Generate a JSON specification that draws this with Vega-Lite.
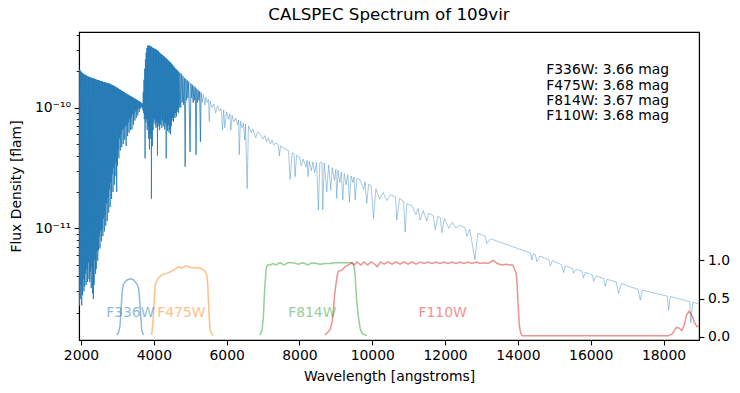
{
"$schema": "https://vega.github.io/schema/vega-lite/v6.json",
"width": 620, "height": 308,
"autosize": {"type": "none"},
"padding": {"left": 79, "top": 32, "right": 41, "bottom": 53},
"background": "white",
"config": {
 "font": "DejaVu Sans",
 "view": {"stroke": "black", "strokeWidth": 1.1},
 "axis": {"grid": false, "domainColor": "black", "domainWidth": 1.1, "tickColor": "black", "tickWidth": 1.1, "tickSize": 4.9, "labelColor": "black", "labelFontSize": 13.9, "labelPadding": 3.5, "titleColor": "black", "titleFontSize": 13.9, "titleFontWeight": "normal", "labelFlush": false, "labelOverlap": false, "labelBound": false}
},
"title": {"text": "CALSPEC Spectrum of 109vir", "fontSize": 16.7, "fontWeight": "normal", "color": "black", "anchor": "middle", "offset": 4},
"datasets": {
"spec": [
{"w":1950,"f":2.09e-10},{"w":1960,"f":2.3e-12},{"w":1970,"f":2.05e-10},{"w":1980,"f":2.6e-12},{"w":1990,"f":2.0e-10},{"w":2000,"f":3.4e-12},
{"w":2010,"f":1.97e-10},{"w":2020,"f":2.3e-12},{"w":2030,"f":1.94e-10},{"w":2040,"f":2.8e-12},{"w":2050,"f":1.92e-10},{"w":2060,"f":3.8e-12},
{"w":2070,"f":1.90e-10},{"w":2080,"f":3.0e-12},{"w":2090,"f":1.88e-10},{"w":2100,"f":3.3e-12},{"w":2110,"f":1.87e-10},{"w":2120,"f":4.2e-12},
{"w":2130,"f":1.85e-10},{"w":2140,"f":3.4e-12},{"w":2150,"f":1.84e-10},{"w":2160,"f":4.6e-12},{"w":2170,"f":1.82e-10},{"w":2180,"f":3.6e-12},
{"w":2190,"f":1.81e-10},{"w":2200,"f":5.2e-12},{"w":2210,"f":1.80e-10},{"w":2220,"f":3.8e-12},{"w":2230,"f":1.79e-10},{"w":2240,"f":3.6e-12},
{"w":2250,"f":1.78e-10},{"w":2260,"f":4.4e-12},{"w":2270,"f":1.77e-10},{"w":2280,"f":3.2e-12},{"w":2290,"f":1.76e-10},{"w":2300,"f":4.8e-12},
{"w":2310,"f":1.75e-10},{"w":2320,"f":2.9e-12},{"w":2330,"f":1.74e-10},{"w":2340,"f":2.6e-12},{"w":2350,"f":1.74e-10},{"w":2360,"f":3.4e-12},
{"w":2370,"f":1.73e-10},{"w":2380,"f":5.5e-12},{"w":2390,"f":1.72e-10},{"w":2400,"f":4.2e-12},{"w":2410,"f":1.71e-10},{"w":2420,"f":4.6e-12},
{"w":2430,"f":1.70e-10},{"w":2440,"f":6.5e-12},{"w":2450,"f":1.69e-10},{"w":2460,"f":5.4e-12},{"w":2470,"f":1.69e-10},{"w":2480,"f":6.6e-12},
{"w":2490,"f":1.68e-10},{"w":2500,"f":8.5e-12},{"w":2510,"f":1.67e-10},{"w":2520,"f":6.8e-12},{"w":2530,"f":1.66e-10},{"w":2540,"f":9.5e-12},
{"w":2550,"f":1.66e-10},{"w":2560,"f":7.8e-12},{"w":2570,"f":1.65e-10},{"w":2580,"f":1.0e-11},{"w":2590,"f":1.64e-10},{"w":2600,"f":8.6e-12},
{"w":2610,"f":1.63e-10},{"w":2620,"f":1.2e-11},{"w":2630,"f":1.63e-10},{"w":2640,"f":9.4e-12},{"w":2650,"f":1.62e-10},{"w":2660,"f":1.3e-11},
{"w":2670,"f":1.61e-10},{"w":2680,"f":1.05e-11},{"w":2690,"f":1.61e-10},{"w":2700,"f":1.6e-11},{"w":2710,"f":1.60e-10},{"w":2720,"f":1.15e-11},
{"w":2730,"f":1.59e-10},{"w":2740,"f":1.8e-11},{"w":2750,"f":1.59e-10},{"w":2760,"f":1.35e-11},{"w":2770,"f":1.58e-10},{"w":2780,"f":2.1e-11},
{"w":2790,"f":1.57e-10},{"w":2800,"f":1.5e-11},{"w":2810,"f":1.56e-10},{"w":2820,"f":2.4e-11},{"w":2830,"f":1.55e-10},{"w":2840,"f":1.75e-11},
{"w":2850,"f":1.54e-10},{"w":2860,"f":2.8e-11},{"w":2870,"f":1.53e-10},{"w":2880,"f":2.0e-11},{"w":2890,"f":1.52e-10},{"w":2900,"f":3.2e-11},
{"w":2910,"f":1.51e-10},{"w":2920,"f":2.3e-11},{"w":2930,"f":1.50e-10},{"w":2940,"f":3.5e-11},{"w":2950,"f":1.48e-10},{"w":2960,"f":2.7e-11},
{"w":2970,"f":1.47e-10},{"w":2980,"f":2.0e-11},{"w":2990,"f":1.46e-10},{"w":3000,"f":3.3e-11},{"w":3010,"f":1.45e-10},{"w":3020,"f":4.5e-11},
{"w":3030,"f":1.43e-10},{"w":3040,"f":3.8e-11},{"w":3050,"f":1.42e-10},{"w":3060,"f":5.5e-11},{"w":3070,"f":1.41e-10},{"w":3080,"f":4.4e-11},
{"w":3090,"f":1.40e-10},{"w":3100,"f":6.0e-11},{"w":3110,"f":1.38e-10},{"w":3120,"f":4.7e-11},{"w":3130,"f":1.37e-10},{"w":3140,"f":6.5e-11},
{"w":3150,"f":1.36e-10},{"w":3160,"f":5.0e-11},{"w":3170,"f":1.35e-10},{"w":3180,"f":6.8e-11},{"w":3190,"f":1.34e-10},{"w":3200,"f":5.4e-11},
{"w":3210,"f":1.32e-10},{"w":3220,"f":7.0e-11},{"w":3230,"f":1.31e-10},{"w":3240,"f":4.8e-11},{"w":3250,"f":1.30e-10},{"w":3260,"f":7.2e-11},
{"w":3270,"f":1.29e-10},{"w":3280,"f":5.8e-11},{"w":3290,"f":1.28e-10},{"w":3300,"f":7.5e-11},{"w":3310,"f":1.27e-10},{"w":3320,"f":6.2e-11},
{"w":3330,"f":1.26e-10},{"w":3340,"f":8.0e-11},{"w":3350,"f":1.25e-10},{"w":3360,"f":6.5e-11},{"w":3370,"f":1.24e-10},{"w":3380,"f":8.3e-11},
{"w":3390,"f":1.23e-10},{"w":3400,"f":6.6e-11},{"w":3410,"f":1.22e-10},{"w":3420,"f":8.8e-11},{"w":3430,"f":1.21e-10},{"w":3440,"f":7.2e-11},
{"w":3450,"f":1.20e-10},{"w":3460,"f":9.0e-11},{"w":3470,"f":1.19e-10},{"w":3480,"f":7.8e-11},{"w":3490,"f":1.18e-10},{"w":3500,"f":9.3e-11},
{"w":3510,"f":1.17e-10},{"w":3520,"f":8.2e-11},{"w":3530,"f":1.16e-10},{"w":3540,"f":9.6e-11},{"w":3550,"f":1.15e-10},{"w":3560,"f":8.6e-11},
{"w":3570,"f":1.14e-10},{"w":3580,"f":9.8e-11},{"w":3590,"f":1.13e-10},{"w":3600,"f":9.2e-11},{"w":3610,"f":1.12e-10},{"w":3620,"f":1.0e-10},
{"w":3630,"f":1.11e-10},{"w":3640,"f":9.8e-11},{"w":3650,"f":1.10e-10},{"w":3660,"f":1.02e-10},{"w":3670,"f":1.08e-10},{"w":3680,"f":1.0e-10},
{"w":3690,"f":1.08e-10},{"w":3700,"f":9.5e-11},{"w":3710,"f":1.35e-10},{"w":3720,"f":9.0e-11},{"w":3730,"f":1.7e-10},{"w":3740,"f":8.0e-11},
{"w":3750,"f":2.1e-10},{"w":3760,"f":3.8e-11},{"w":3770,"f":2.5e-10},{"w":3780,"f":7.5e-11},{"w":3790,"f":2.85e-10},{"w":3800,"f":8.0e-11},
{"w":3810,"f":3.1e-10},{"w":3820,"f":6.5e-11},{"w":3830,"f":3.25e-10},{"w":3840,"f":7.0e-11},{"w":3850,"f":3.26e-10},{"w":3860,"f":5.5e-11},
{"w":3870,"f":3.25e-10},{"w":3880,"f":4.5e-11},{"w":3890,"f":3.24e-10},{"w":3900,"f":6.0e-11},{"w":3910,"f":3.22e-10},{"w":3920,"f":5.5e-11},
{"w":3928,"f":3.2e-10},{"w":3934,"f":1.76e-11},{"w":3950,"f":3.15e-10},{"w":3960,"f":4.8e-11},{"w":3970,"f":3.12e-10},{"w":3980,"f":6.5e-11},
{"w":3990,"f":3.1e-10},{"w":4000,"f":7.5e-11},{"w":4010,"f":3.08e-10},{"w":4020,"f":8.0e-11},{"w":4030,"f":3.06e-10},{"w":4040,"f":7.2e-11},
{"w":4050,"f":3.04e-10},{"w":4060,"f":6.8e-11},{"w":4070,"f":3.01e-10},{"w":4080,"f":7.5e-11},{"w":4090,"f":2.99e-10},{"w":4100,"f":4.0e-11},
{"w":4110,"f":2.96e-10},{"w":4120,"f":7.0e-11},{"w":4130,"f":2.91e-10},{"w":4140,"f":7.5e-11},{"w":4150,"f":2.86e-10},{"w":4160,"f":6.5e-11},
{"w":4170,"f":2.82e-10},{"w":4180,"f":7.2e-11},{"w":4190,"f":2.79e-10},{"w":4200,"f":8.0e-11},{"w":4210,"f":2.76e-10},{"w":4220,"f":6.8e-11},
{"w":4230,"f":2.73e-10},{"w":4240,"f":7.8e-11},{"w":4250,"f":2.70e-10},{"w":4260,"f":7.0e-11},{"w":4270,"f":2.67e-10},{"w":4280,"f":7.6e-11},
{"w":4290,"f":2.63e-10},{"w":4300,"f":6.6e-11},{"w":4310,"f":2.60e-10},{"w":4320,"f":7.4e-11},{"w":4330,"f":2.57e-10},{"w":4340,"f":3.8e-11},
{"w":4350,"f":2.54e-10},{"w":4360,"f":7.0e-11},{"w":4370,"f":2.50e-10},{"w":4380,"f":6.4e-11},{"w":4390,"f":2.47e-10},{"w":4400,"f":7.2e-11},
{"w":4410,"f":2.43e-10},{"w":4420,"f":6.2e-11},{"w":4430,"f":2.40e-10},{"w":4440,"f":6.6e-11},{"w":4450,"f":2.37e-10},{"w":4460,"f":6.0e-11},
{"w":4470,"f":2.34e-10},{"w":4480,"f":7.0e-11},{"w":4490,"f":2.30e-10},{"w":4500,"f":7.8e-11},{"w":4510,"f":2.26e-10},{"w":4520,"f":8.2e-11},
{"w":4530,"f":2.22e-10},{"w":4540,"f":7.6e-11},{"w":4550,"f":2.18e-10},{"w":4560,"f":8.6e-11},{"w":4570,"f":2.14e-10},{"w":4580,"f":8.2e-11},
{"w":4590,"f":2.11e-10},{"w":4600,"f":9.0e-11},{"w":4610,"f":2.08e-10},{"w":4620,"f":8.4e-11},{"w":4630,"f":2.05e-10},{"w":4640,"f":9.2e-11},
{"w":4650,"f":2.02e-10},{"w":4660,"f":9.6e-11},{"w":4670,"f":1.99e-10},{"w":4680,"f":9.0e-11},{"w":4690,"f":1.96e-10},{"w":4700,"f":1.0e-10},
{"w":4720,"f":1.93e-10},{"w":4740,"f":1.0e-10},{"w":4760,"f":1.90e-10},{"w":4780,"f":1.1e-10},{"w":4800,"f":1.83e-10},{"w":4820,"f":1.05e-10},
{"w":4840,"f":1.76e-10},{"w":4861,"f":3.24e-11},{"w":4880,"f":1.72e-10},{"w":4900,"f":1.15e-10},{"w":4920,"f":1.68e-10},{"w":4940,"f":1.2e-10},
{"w":4960,"f":1.64e-10},{"w":4995,"f":4.3e-11},{"w":5020,"f":1.58e-10},{"w":5040,"f":1.2e-10},{"w":5060,"f":1.54e-10},{"w":5080,"f":1.1e-10},
{"w":5100,"f":1.50e-10},{"w":5120,"f":1.15e-10},{"w":5140,"f":1.47e-10},{"w":5160,"f":4.06e-11},{"w":5180,"f":1.43e-10},{"w":5200,"f":1.1e-10},
{"w":5220,"f":1.39e-10},{"w":5240,"f":1.15e-10},{"w":5260,"f":1.36e-10},{"w":5280,"f":5.2e-11},{"w":5300,"f":1.33e-10},{"w":5330,"f":1.1e-10},
{"w":5360,"f":1.28e-10},{"w":5400,"f":1.05e-10},{"w":5430,"f":1.22e-10},{"w":5460,"f":1.1e-10},{"w":5500,"f":1.17e-10},{"w":5523,"f":7.66e-11},
{"w":5550,"f":1.13e-10},{"w":5600,"f":1.0e-10},{"w":5650,"f":1.07e-10},{"w":5700,"f":9.0e-11},{"w":5750,"f":1.03e-10},{"w":5800,"f":9.4e-11},
{"w":5850,"f":9.8e-11},{"w":5888,"f":6.54e-11},{"w":5920,"f":9.55e-11},{"w":5951,"f":6.8e-11},{"w":6000,"f":9.2e-11},{"w":6050,"f":8.0e-11},
{"w":6090,"f":8.85e-11},{"w":6116,"f":6.5e-11},{"w":6150,"f":8.6e-11},{"w":6200,"f":7.6e-11},{"w":6250,"f":8.2e-11},{"w":6300,"f":7.2e-11},
{"w":6330,"f":7.9e-11},{"w":6346,"f":4.06e-11},{"w":6380,"f":7.7e-11},{"w":6420,"f":6.8e-11},{"w":6460,"f":7.45e-11},{"w":6498,"f":5.4e-11},
{"w":6520,"f":7.3e-11},{"w":6563,"f":2.14e-11},{"w":6600,"f":7.05e-11},{"w":6680,"f":6.2e-11},{"w":6720,"f":6.65e-11},{"w":6800,"f":5.6e-11},
{"w":6850,"f":6.3e-11},{"w":6919,"f":6.05e-11},{"w":7000,"f":5.5e-11},{"w":7050,"f":5.85e-11},{"w":7100,"f":5.2e-11},{"w":7150,"f":5.62e-11},
{"w":7200,"f":5.0e-11},{"w":7250,"f":5.35e-11},{"w":7300,"f":4.9e-11},{"w":7350,"f":5.09e-11},{"w":7420,"f":4.92e-11},{"w":7449,"f":3.98e-11},
{"w":7480,"f":4.8e-11},{"w":7600,"f":4.56e-11},{"w":7700,"f":4.38e-11},{"w":7743,"f":2.55e-11},{"w":7800,"f":4.22e-11},{"w":7850,"f":4.15e-11},
{"w":7881,"f":2.68e-11},{"w":7920,"f":4.02e-11},{"w":8000,"f":3.9e-11},{"w":8050,"f":3.3e-11},{"w":8100,"f":3.75e-11},{"w":8180,"f":3.2e-11},
{"w":8210,"f":3.65e-11},{"w":8238,"f":2.68e-11},{"w":8270,"f":3.6e-11},{"w":8330,"f":3.0e-11},{"w":8370,"f":3.55e-11},{"w":8420,"f":2.9e-11},
{"w":8470,"f":3.52e-11},{"w":8521,"f":1.42e-11},{"w":8560,"f":3.5e-11},{"w":8620,"f":3.5e-11},{"w":8641,"f":1.42e-11},{"w":8680,"f":3.48e-11},
{"w":8752,"f":2.01e-11},{"w":8800,"f":3.35e-11},{"w":8862,"f":2.08e-11},{"w":8900,"f":3.18e-11},{"w":8960,"f":2.5e-11},{"w":9000,"f":3.08e-11},
{"w":9026,"f":1.77e-11},{"w":9060,"f":3.02e-11},{"w":9110,"f":2.4e-11},{"w":9150,"f":2.92e-11},{"w":9191,"f":1.72e-11},{"w":9230,"f":2.85e-11},
{"w":9280,"f":2.3e-11},{"w":9330,"f":2.78e-11},{"w":9373,"f":1.66e-11},{"w":9420,"f":2.71e-11},{"w":9470,"f":2.4e-11},{"w":9500,"f":2.66e-11},
{"w":9530,"f":1.72e-11},{"w":9580,"f":2.6e-11},{"w":9667,"f":2.52e-11},{"w":9760,"f":2.1e-11},{"w":9800,"f":2.43e-11},{"w":9851,"f":1.61e-11},
{"w":9900,"f":2.32e-11},{"w":9970,"f":2.25e-11},{"w":10034,"f":1.21e-11},{"w":10100,"f":2.13e-11},{"w":10200,"f":1.75e-11},{"w":10300,"f":1.98e-11},
{"w":10400,"f":1.7e-11},{"w":10500,"f":1.9e-11},{"w":10582,"f":1.85e-11},{"w":10640,"f":1.82e-11},{"w":10674,"f":1.17e-11},{"w":10750,"f":1.76e-11},
{"w":10860,"f":1.68e-11},{"w":10904,"f":9.3e-12},{"w":10950,"f":1.6e-11},{"w":11100,"f":1.53e-11},{"w":11200,"f":1.3e-11},{"w":11260,"f":1.46e-11},
{"w":11316,"f":1.17e-11},{"w":11400,"f":1.4e-11},{"w":11500,"f":1.15e-11},{"w":11550,"f":1.33e-11},{"w":11680,"f":1.27e-11},{"w":11728,"f":9.7e-12},
{"w":11800,"f":1.25e-11},{"w":11870,"f":1.23e-11},{"w":11911,"f":9.2e-12},{"w":11980,"f":1.2e-11},{"w":12100,"f":1.0e-11},{"w":12200,"f":1.12e-11},
{"w":12300,"f":1.0e-11},{"w":12400,"f":1.06e-11},{"w":12550,"f":1.01e-11},{"w":12599,"f":8.6e-12},{"w":12680,"f":9.8e-12},{"w":12818,"f":5.5e-12},
{"w":12900,"f":9.1e-12},{"w":13000,"f":8.85e-12},{"w":13100,"f":8.6e-12},{"w":13148,"f":7.5e-12},{"w":13250,"f":8.2e-12},{"w":13605,"f":7.5e-12},
{"w":14000,"f":6.8e-12},{"w":14350,"f":6.25e-12},{"w":14385,"f":5.47e-12},{"w":14420,"f":6.15e-12},{"w":14480,"f":6.05e-12},{"w":14522,"f":5.3e-12},
{"w":14600,"f":5.9e-12},{"w":14850,"f":5.5e-12},{"w":14888,"f":4.9e-12},{"w":14950,"f":5.4e-12},{"w":15200,"f":5.0e-12},{"w":15254,"f":4.3e-12},
{"w":15300,"f":4.88e-12},{"w":15500,"f":4.65e-12},{"w":15529,"f":4.25e-12},{"w":15600,"f":4.58e-12},{"w":15760,"f":4.4e-12},{"w":15803,"f":3.9e-12},
{"w":15850,"f":4.32e-12},{"w":16050,"f":4.1e-12},{"w":16078,"f":3.65e-12},{"w":16150,"f":4.02e-12},{"w":16354,"f":3.85e-12},{"w":16400,"f":3.3e-12},
{"w":16450,"f":3.78e-12},{"w":16700,"f":3.6e-12},{"w":16766,"f":2.9e-12},{"w":16850,"f":3.5e-12},{"w":17100,"f":3.27e-12},{"w":17300,"f":3.13e-12},
{"w":17362,"f":2.55e-12},{"w":17420,"f":3.07e-12},{"w":17700,"f":2.93e-12},{"w":18100,"f":2.75e-12},{"w":18140,"f":2.1e-12},{"w":18187,"f":2.72e-12},
{"w":18400,"f":2.62e-12},{"w":18600,"f":2.52e-12},{"w":18720,"f":2.47e-12},{"w":18751,"f":1.65e-12},{"w":18800,"f":2.44e-12},{"w":18990,"f":2.36e-12}
],
"filters": [
{"filt":"F336W","w":2981,"t":0.02},{"filt":"F336W","w":3030,"t":0.05},{"filt":"F336W","w":3072,"t":0.14},{"filt":"F336W","w":3107,"t":0.42},
{"filt":"F336W","w":3135,"t":0.61},{"filt":"F336W","w":3168,"t":0.69},{"filt":"F336W","w":3256,"t":0.74},{"filt":"F336W","w":3347,"t":0.76},
{"filt":"F336W","w":3429,"t":0.75},{"filt":"F336W","w":3484,"t":0.72},{"filt":"F336W","w":3539,"t":0.69},{"filt":"F336W","w":3580,"t":0.64},
{"filt":"F336W","w":3613,"t":0.48},{"filt":"F336W","w":3641,"t":0.26},{"filt":"F336W","w":3668,"t":0.09},{"filt":"F336W","w":3712,"t":0.02},
{"filt":"F475W","w":3943,"t":0.02},{"filt":"F475W","w":3987,"t":0.26},{"filt":"F475W","w":4034,"t":0.66},{"filt":"F475W","w":4075,"t":0.73},
{"filt":"F475W","w":4124,"t":0.77},{"filt":"F475W","w":4218,"t":0.81},{"filt":"F475W","w":4355,"t":0.83},{"filt":"F475W","w":4492,"t":0.86},
{"filt":"F475W","w":4630,"t":0.90},{"filt":"F475W","w":4693,"t":0.92},{"filt":"F475W","w":4767,"t":0.90},{"filt":"F475W","w":4885,"t":0.93},
{"filt":"F475W","w":4995,"t":0.91},{"filt":"F475W","w":5133,"t":0.90},{"filt":"F475W","w":5270,"t":0.90},{"filt":"F475W","w":5388,"t":0.87},
{"filt":"F475W","w":5454,"t":0.81},{"filt":"F475W","w":5482,"t":0.68},{"filt":"F475W","w":5498,"t":0.48},{"filt":"F475W","w":5526,"t":0.22},
{"filt":"F475W","w":5545,"t":0.09},{"filt":"F475W","w":5619,"t":0.01},
{"filt":"F814W","w":6919,"t":0.02},{"filt":"F814W","w":6974,"t":0.09},{"filt":"F814W","w":7010,"t":0.26},{"filt":"F814W","w":7043,"t":0.61},
{"filt":"F814W","w":7056,"t":0.70},{"filt":"F814W","w":7089,"t":0.90},{"filt":"F814W","w":7125,"t":0.94},{"filt":"F814W","w":7194,"t":0.94},
{"filt":"F814W","w":7276,"t":0.96},{"filt":"F814W","w":7359,"t":0.94},{"filt":"F814W","w":7469,"t":0.97},{"filt":"F814W","w":7579,"t":0.94},
{"filt":"F814W","w":7688,"t":0.97},{"filt":"F814W","w":7826,"t":0.97},{"filt":"F814W","w":7963,"t":0.95},{"filt":"F814W","w":8101,"t":0.97},
{"filt":"F814W","w":8238,"t":0.94},{"filt":"F814W","w":8348,"t":0.97},{"filt":"F814W","w":8458,"t":0.96},{"filt":"F814W","w":8568,"t":0.95},
{"filt":"F814W","w":8705,"t":0.96},{"filt":"F814W","w":8843,"t":0.96},{"filt":"F814W","w":8980,"t":0.97},{"filt":"F814W","w":9117,"t":0.97},
{"filt":"F814W","w":9255,"t":0.97},{"filt":"F814W","w":9392,"t":0.97},{"filt":"F814W","w":9474,"t":0.96},{"filt":"F814W","w":9516,"t":0.88},
{"filt":"F814W","w":9543,"t":0.70},{"filt":"F814W","w":9571,"t":0.48},{"filt":"F814W","w":9620,"t":0.26},{"filt":"F814W","w":9667,"t":0.11},
{"filt":"F814W","w":9722,"t":0.04},{"filt":"F814W","w":9851,"t":0.01},
{"filt":"F110W","w":8705,"t":0.02},{"filt":"F110W","w":8843,"t":0.09},{"filt":"F110W","w":8898,"t":0.19},{"filt":"F110W","w":8933,"t":0.35},
{"filt":"F110W","w":8966,"t":0.55},{"filt":"F110W","w":9007,"t":0.70},{"filt":"F110W","w":9035,"t":0.80},{"filt":"F110W","w":9071,"t":0.86},
{"filt":"F110W","w":9164,"t":0.87},{"filt":"F110W","w":9255,"t":0.92},{"filt":"F110W","w":9345,"t":0.94},{"filt":"F110W","w":9439,"t":0.97},
{"filt":"F110W","w":9502,"t":0.94},{"filt":"F110W","w":9584,"t":0.98},{"filt":"F110W","w":9680,"t":0.94},{"filt":"F110W","w":9777,"t":0.98},
{"filt":"F110W","w":9873,"t":0.94},{"filt":"F110W","w":9969,"t":0.98},{"filt":"F110W","w":10065,"t":0.95},{"filt":"F110W","w":10134,"t":0.92},
{"filt":"F110W","w":10230,"t":0.98},{"filt":"F110W","w":10326,"t":0.95},{"filt":"F110W","w":10436,"t":0.98},{"filt":"F110W","w":10546,"t":0.95},
{"filt":"F110W","w":10656,"t":0.98},{"filt":"F110W","w":10766,"t":0.95},{"filt":"F110W","w":10876,"t":0.98},{"filt":"F110W","w":10986,"t":0.95},
{"filt":"F110W","w":11096,"t":0.98},{"filt":"F110W","w":11206,"t":0.95},{"filt":"F110W","w":11316,"t":0.98},{"filt":"F110W","w":11426,"t":0.96},
{"filt":"F110W","w":11536,"t":0.98},{"filt":"F110W","w":11645,"t":0.96},{"filt":"F110W","w":11755,"t":0.98},{"filt":"F110W","w":11865,"t":0.96},
{"filt":"F110W","w":11975,"t":0.98},{"filt":"F110W","w":12085,"t":0.96},{"filt":"F110W","w":12195,"t":0.98},{"filt":"F110W","w":12305,"t":0.96},
{"filt":"F110W","w":12415,"t":0.98},{"filt":"F110W","w":12524,"t":0.96},{"filt":"F110W","w":12634,"t":0.98},{"filt":"F110W","w":12744,"t":0.96},
{"filt":"F110W","w":12854,"t":0.98},{"filt":"F110W","w":12964,"t":0.96},{"filt":"F110W","w":13074,"t":0.97},{"filt":"F110W","w":13184,"t":0.96},
{"filt":"F110W","w":13322,"t":1.00},{"filt":"F110W","w":13431,"t":0.96},{"filt":"F110W","w":13569,"t":0.94},{"filt":"F110W","w":13679,"t":0.95},
{"filt":"F110W","w":13789,"t":0.94},{"filt":"F110W","w":13858,"t":0.94},{"filt":"F110W","w":13899,"t":0.90},{"filt":"F110W","w":13954,"t":0.83},
{"filt":"F110W","w":13981,"t":0.68},{"filt":"F110W","w":14000,"t":0.48},{"filt":"F110W","w":14022,"t":0.29},{"filt":"F110W","w":14044,"t":0.13},
{"filt":"F110W","w":14077,"t":0.05},{"filt":"F110W","w":14118,"t":0.01},{"filt":"F110W","w":16262,"t":0.01},{"filt":"F110W","w":18131,"t":0.01},
{"filt":"F110W","w":18241,"t":0.035},{"filt":"F110W","w":18351,"t":0.12},{"filt":"F110W","w":18433,"t":0.11},{"filt":"F110W","w":18507,"t":0.08},
{"filt":"F110W","w":18570,"t":0.15},{"filt":"F110W","w":18625,"t":0.27},{"filt":"F110W","w":18689,"t":0.33},{"filt":"F110W","w":18735,"t":0.31},
{"filt":"F110W","w":18790,"t":0.27},{"filt":"F110W","w":18845,"t":0.19},{"filt":"F110W","w":18919,"t":0.13},{"filt":"F110W","w":18982,"t":0.14},
{"filt":"F110W","w":19064,"t":0.18}
],
"labels": [
{"filt":"F336W","w":3355},{"filt":"F475W","w":4756},{"filt":"F814W","w":8353},{"filt":"F110W","w":11934}
]
},
"layer": [
 {
  "data": {"name": "spec"},
  "encoding": {
   "x": {"field": "w", "type": "quantitative", "scale": {"domain": [1945, 18975], "nice": false, "zero": false},
    "axis": {"values": [2000,4000,6000,8000,10000,12000,14000,16000,18000], "format": "d", "title": "Wavelength [angstroms]", "titleY": 36.2, "titleBaseline": "middle"}},
   "y": {"field": "f", "type": "quantitative",
    "scale": {"type": "log", "domain": [1.19e-12, 4.22e-10], "nice": false},
    "axis": {"values": [2e-12,3e-12,4e-12,5e-12,6e-12,7e-12,8e-12,9e-12,1e-11,2e-11,3e-11,4e-11,5e-11,6e-11,7e-11,8e-11,9e-11,1e-10,2e-10,3e-10,4e-10],
     "labelExpr": "datum.value == 1e-10 ? '10⁻¹⁰' : (datum.value == 1e-11 ? '10⁻¹¹' : '')",
     "tickSize": {"condition": {"test": "datum.value == 1e-10 || datum.value == 1e-11", "value": 4.9}, "value": 2.8},
     "tickWidth": {"condition": {"test": "datum.value == 1e-10 || datum.value == 1e-11", "value": 1.1}, "value": 0.85},
     "title": "Flux Density [flam]", "titleX": -62.9, "titleY": 154, "titleBaseline": "middle", "titleAlign": "center", "titleAngle": 270}
   }
  },
  "layer": [
   {
    "transform": [{"filter": {"field": "w", "lte": 5300}}],
    "mark": {"type": "line", "color": "#1f77b4", "strokeWidth": 0.8, "clip": true}
   },
   {
    "transform": [{"filter": {"field": "w", "gte": 5300}}],
    "mark": {"type": "line", "color": "#1f77b4", "strokeWidth": 0.4, "clip": true}
   }
  ]
 },
 {
  "layer": [
   {
    "data": {"name": "filters"},
    "mark": {"type": "line", "strokeWidth": 1.5, "opacity": 0.5, "clip": true},
    "encoding": {
     "x": {"field": "w", "type": "quantitative", "scale": {"domain": [1945, 18975], "nice": false, "zero": false},
      "axis": {"values": [2000,4000,6000,8000,10000,12000,14000,16000,18000], "format": "d", "title": "Wavelength [angstroms]", "titleY": 36.2, "titleBaseline": "middle"}},
     "y": {"field": "t", "type": "quantitative", "scale": {"domain": [-0.045, 4.0], "nice": false, "zero": false},
      "axis": {"orient": "right", "values": [0, 0.5, 1], "format": ".1f", "title": null}},
     "color": {"field": "filt", "type": "nominal", "scale": {"domain": ["F336W","F475W","F814W","F110W"], "range": ["#1f77b4","#ff7f0e","#2ca02c","#d62728"]}, "legend": null}
    }
   },
   {
    "data": {"name": "labels"},
    "mark": {"type": "text", "fontSize": 13.9, "opacity": 0.5, "align": "center", "baseline": "middle"},
    "encoding": {
     "x": {"field": "w", "type": "quantitative", "scale": {"domain": [1945, 18975], "nice": false, "zero": false},
      "axis": {"values": [2000,4000,6000,8000,10000,12000,14000,16000,18000], "format": "d", "title": "Wavelength [angstroms]", "titleY": 36.2, "titleBaseline": "middle"}},
     "y": {"datum": 0.31},
     "text": {"field": "filt", "type": "nominal"},
     "color": {"field": "filt", "type": "nominal", "legend": null}
    }
   },
   {
    "data": {"values": [{"a": 1}]},
    "mark": {"type": "text", "fontSize": 13.9, "align": "left", "baseline": "middle", "fill": "black"},
    "encoding": {"x": {"datum": 14780}, "y": {"datum": 3.498}, "text": {"value": "F336W: 3.66 mag"}}
   },
   {
    "data": {"values": [{"a": 1}]},
    "mark": {"type": "text", "fontSize": 13.9, "align": "left", "baseline": "middle", "fill": "black"},
    "encoding": {"x": {"datum": 14780}, "y": {"datum": 3.294}, "text": {"value": "F475W: 3.68 mag"}}
   },
   {
    "data": {"values": [{"a": 1}]},
    "mark": {"type": "text", "fontSize": 13.9, "align": "left", "baseline": "middle", "fill": "black"},
    "encoding": {"x": {"datum": 14780}, "y": {"datum": 3.093}, "text": {"value": "F814W: 3.67 mag"}}
   },
   {
    "data": {"values": [{"a": 1}]},
    "mark": {"type": "text", "fontSize": 13.9, "align": "left", "baseline": "middle", "fill": "black"},
    "encoding": {"x": {"datum": 14780}, "y": {"datum": 2.896}, "text": {"value": "F110W: 3.68 mag"}}
   }
  ]
 }
],
"resolve": {"scale": {"y": "independent"}}
}
